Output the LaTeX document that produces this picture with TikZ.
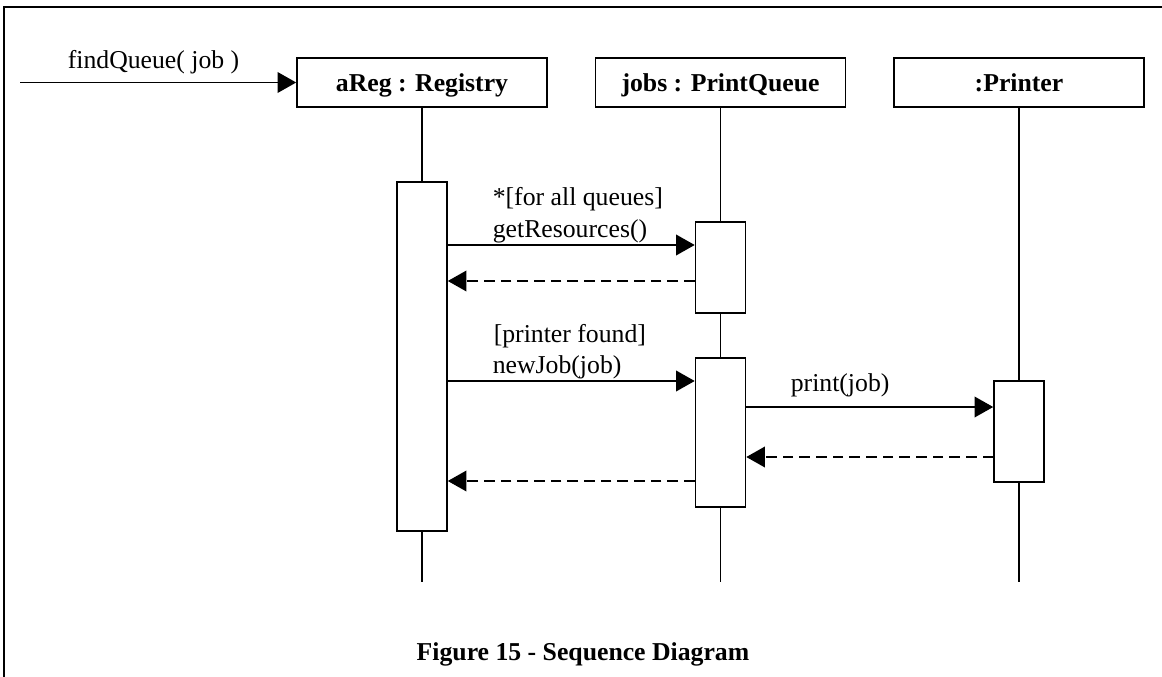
\documentclass[tikz,border=0pt]{standalone}
\usepackage{fontspec}
\setmainfont{Liberation Serif}
\usetikzlibrary{arrows.meta}
\begin{document}
\begin{tikzpicture}[x=0.75pt,y=-0.75pt,
  font=\fontsize{19.3}{23}\selectfont,
  line width=1.2pt,
  obj/.style={draw, minimum width=187.5pt, minimum height=36.75pt, inner sep=0pt, text height=16pt, text depth=1.75pt, font=\fontsize{19.3}{23}\selectfont\bfseries},
  act/.style={draw, fill=white, minimum width=37.5pt, inner sep=0pt},
  msg/.style={-{Triangle[length=14pt,width=15.5pt]}},
  ret/.style={msg, dash pattern=on 8pt off 4.5pt},
  lbl/.style={inner sep=0pt, anchor=base west}]
\useasboundingbox (0,0) rectangle (1162,677);
\clip (0,0) rectangle (1162,677);
\draw[line width=1.5pt] (4,700) -- (4,7) -- (1200,7);

% objects
\node[obj] (reg) at (422,82.5) {aReg : Registry};
\node[obj] (pq) at (720.5,82.5) {jobs : PrintQueue};
\node[obj] (pr) at (1019,82.5) {:Printer};

% lifelines
\coordinate (regend) at (422,582);
\coordinate (pqend) at (720.5,582);
\coordinate (prend) at (1019,582);
\draw (reg) -- (regend);
\draw (pq) -- (pqend);
\draw (pr) -- (prend);

% activations
\node[act, minimum height=261.75pt] (ra) at (422,356.5) {};
\node[act, minimum height=68.25pt] (qa1) at (720.5,267.5) {};
\node[act, minimum height=111.75pt] (qa2) at (720.5,432.5) {};
\node[act, minimum height=75.75pt] (pa) at (1019,431.5) {};

% incoming message
\coordinate (start) at (20,82.5);
\draw[msg] (start) -- (reg.west);
\node[lbl] (fq) at (67,69) {findQueue( job )};

% message levels
\coordinate (m1) at (0,245);
\coordinate (m2) at (0,281);
\coordinate (m3) at (0,381);
\coordinate (m4) at (0,407);
\coordinate (m5) at (0,457);
\coordinate (m6) at (0,481);

\draw[msg] (ra.east |- m1) -- (qa1.west |- m1);
\draw[ret] (qa1.west |- m2) -- (ra.east |- m2);
\draw[msg] (ra.east |- m3) -- (qa2.west |- m3);
\draw[msg] (qa2.east |- m4) -- (pa.west |- m4);
\draw[ret] (pa.west |- m5) -- (qa2.east |- m5);
\draw[ret] (qa2.west |- m6) -- (ra.east |- m6);

% labels
\node[lbl] (g1) at (492,205) {*[for all queues]};
\node[lbl] (g2) at (492,238) {getResources()};
\node[lbl] (c1) at (493,342) {[printer found]};
\node[lbl] (c2) at (492,373) {newJob(job)};
\node[lbl] (pj) at (790,391) {print(job)};

% caption
\node[inner sep=0pt, anchor=base, font=\fontsize{19.3}{23}\selectfont\bfseries] (cap) at (583,660) {Figure 15 - Sequence Diagram};
\end{tikzpicture}
\end{document}
